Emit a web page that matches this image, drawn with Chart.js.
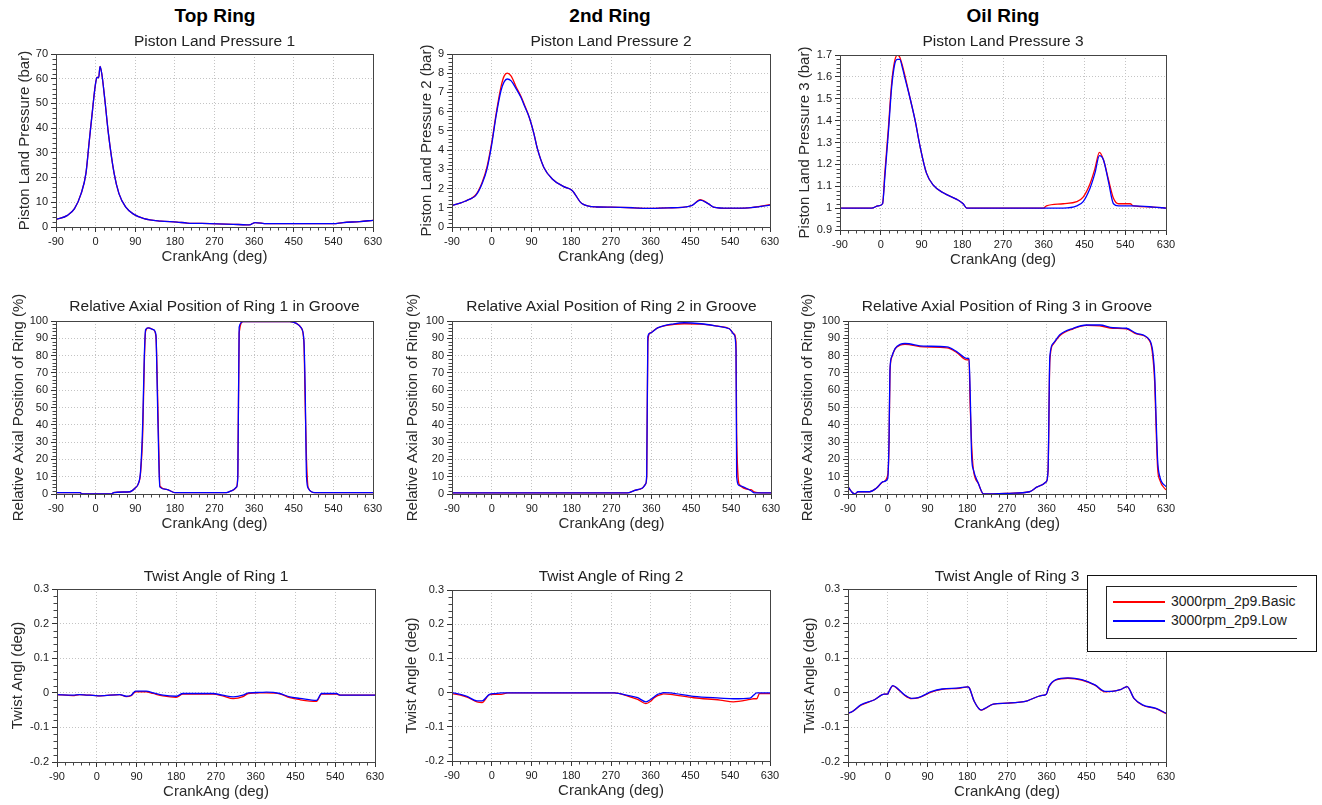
<!DOCTYPE html>
<html lang="en">
<head>
<meta charset="UTF-8" />
<title>Ring Dynamics</title>
<script src="https://cdn.jsdelivr.net/npm/chart.js"></script>
<style>
  body { margin: 0; width: 1322px; height: 805px; background: #fff; position: relative; overflow: hidden;
         font-family: "Liberation Sans", Arial, sans-serif; }
  canvas { position: absolute; }
  .head { position: absolute; font-weight: bold; font-size: 19px; color: #000; transform: translate(-50%, -50%); white-space: nowrap; }
  .sub { position: absolute; font-size: 15.5px; color: #222; transform: translate(-50%, -50%); white-space: nowrap; }
  #legend { position: absolute; left: 1087px; top: 575px; width: 228px; height: 75px; border: 1.5px solid #111; background: #fff; }
  #legend .inner { position: absolute; left: 18px; top: 10px; width: 190px; height: 51px; border: 1.5px solid #222; border-right: none; }
  #legend .row { position: absolute; left: 6px; font-size: 14px; color: #222; white-space: nowrap; }
  #legend .swatch { display: inline-block; width: 52px; height: 0; border-top: 2px solid; vertical-align: middle; margin-right: 6px; }
</style>
</head>
<body>
<div class="head" style="left:215px; top:16px">Top Ring</div>
<div class="head" style="left:610px; top:16px">2nd Ring</div>
<div class="head" style="left:1003px; top:16px">Oil Ring</div>

<div id="legend">
  <div class="inner">
    <div class="row" style="top:6px"><span class="swatch" style="border-color:#ff0000"></span>3000rpm_2p9.Basic</div>
    <div class="row" style="top:25px"><span class="swatch" style="border-color:#0000ff"></span>3000rpm_2p9.Low</div>
  </div>
</div>

<script>
const seriesNames = ["3000rpm_2p9.Basic", "3000rpm_2p9.Low"];
const xTicks = { min: -90, max: 630, step: 90, minor: 18 };

// Piston land pressure 1 (bar)
const lp1X = [-90, -64, -48, -33, -22, -15, -7, -1, 3, 7, 10, 14, 21, 29, 42, 53, 68, 87, 110, 148, 185, 208, 260, 313, 343, 352, 362, 389, 540, 562, 600, 630];
const lp1Basic = [3, 4.7, 7.4, 13.5, 21.7, 33.8, 47.4, 57, 60.5, 60.5, 65, 62, 51.4, 37.9, 21.7, 13.5, 8.1, 5.1, 3.4, 2.4, 2.0, 1.6, 1.4, 1.1, 0.9, 1.0, 1.8, 1.35, 1.35, 1.8, 2.2, 2.7];
const lp1Low = [3, 4.7, 7.4, 13.5, 21.7, 33.8, 47.4, 57, 60.5, 60.5, 65, 62, 51.4, 37.9, 21.7, 13.5, 8.1, 5.1, 3.4, 2.4, 2.0, 1.6, 1.4, 1.1, 0.9, 1.0, 1.8, 1.35, 1.35, 1.8, 2.2, 2.7];

// Piston land pressure 2 (bar)
const lp2X = [-90, -70, -56, -45, -37, -30, -22, -11, 0, 10, 21, 28, 35, 44, 55, 66, 75, 85, 95, 103, 118, 137, 163, 182, 204, 238, 270, 321, 351, 400, 431, 454, 472, 491, 502, 536, 581, 630];
const lp2Basic = [1.13, 1.25, 1.39, 1.5, 1.65, 1.9, 2.3, 3.1, 4.4, 5.9, 7.3, 7.85, 8.0, 7.85, 7.3, 6.8, 6.3, 5.7, 4.9, 4.1, 3.1, 2.5, 2.1, 1.9, 1.22, 1.04, 1.03, 1.0, 0.97, 1.0, 1.02, 1.13, 1.42, 1.2, 1.04, 0.97, 1.0, 1.16];
const lp2Low = [1.13, 1.25, 1.39, 1.5, 1.62, 1.85, 2.25, 3.0, 4.3, 5.8, 7.1, 7.55, 7.7, 7.6, 7.2, 6.75, 6.25, 5.7, 4.9, 4.1, 3.1, 2.5, 2.1, 1.9, 1.22, 1.04, 1.03, 1.0, 0.97, 1.0, 1.02, 1.13, 1.4, 1.2, 1.04, 0.98, 1.0, 1.14];

// Piston land pressure 3 (bar)
const lp3X = [-90, -20, -6, 4, 9, 17, 24, 31, 37, 42, 48, 54, 65, 76, 87, 101, 116, 138, 168, 182, 190, 359, 366, 403, 433, 447, 462, 473, 483, 492, 503, 514, 525, 551, 558, 602, 630];
const lp3Basic = [1.0, 1.0, 1.01, 1.02, 1.16, 1.37, 1.57, 1.675, 1.70, 1.69, 1.65, 1.60, 1.50, 1.40, 1.28, 1.16, 1.105, 1.07, 1.04, 1.02, 1.0, 1.0, 1.01, 1.02, 1.03, 1.05, 1.11, 1.18, 1.255, 1.22, 1.13, 1.045, 1.02, 1.02, 1.01, 1.005, 1.0];
const lp3Low = [1.0, 1.0, 1.01, 1.02, 1.14, 1.35, 1.55, 1.66, 1.68, 1.68, 1.64, 1.59, 1.50, 1.40, 1.28, 1.16, 1.105, 1.07, 1.04, 1.02, 1.0, 1.0, 1.0, 1.0, 1.01, 1.03, 1.09, 1.16, 1.24, 1.22, 1.12, 1.02, 1.01, 1.01, 1.01, 1.005, 1.0];

// Relative axial position of ring 1 (%)
const ap1X = [-90, -35, -31, 38, 40, 78, 89, 97, 102, 107, 110.5, 113.5, 119.5, 131, 137, 140, 144, 146, 161, 180, 297, 312, 320, 323, 326, 335, 441, 456, 467, 473, 476, 479, 483, 498, 630];
const ap1Basic = [0.8, 0.8, 0, 0, 0.8, 1.3, 3.3, 6, 12, 35, 75, 94, 96, 95, 91, 66, 20, 4.5, 2.7, 0.8, 0.8, 2.3, 4, 12, 93, 99.6, 99.6, 98.6, 96, 88, 52, 20, 3.5, 0.8, 0.8];
const ap1Low = [0.8, 0.8, 0, 0, 0.8, 1.3, 3.3, 6, 13, 41, 79, 95, 96, 95, 92, 60, 14, 4, 2.7, 0.8, 0.8, 2.3, 4, 10, 96.5, 99.6, 99.6, 98.6, 96, 89, 60, 10, 3.3, 0.8, 0.8];

// Relative axial position of ring 2 (%)
const ap2X = [-90, 306, 321, 340, 347, 349.5, 352, 357, 374, 411, 434, 472, 509.5, 536, 547, 551, 552.5, 558.5, 585, 592.5, 600, 630];
const ap2Basic = [0.6, 0.6, 2, 3.5, 5.8, 10, 88, 93, 96, 98, 98.4, 98.2, 97, 95.5, 92.5, 88, 35, 5.5, 2.5, 1.2, 0.8, 0.6];
const ap2Low = [0.6, 0.6, 2, 3.5, 5.8, 11.6, 91, 93, 96, 98.4, 99, 98.4, 97, 95.5, 92, 83.5, 9.7, 4.9, 1.9, 0.6, 0.6, 0.6];

// Relative axial position of ring 3 (%)
const ap3X = [-90, -82, -75, -67, -41, -26, -10, 0, 3, 5, 9, 17, 28, 39, 81, 134, 156, 179, 184, 186.5, 190, 194, 205, 217, 276, 321, 340, 359, 363, 367, 374.5, 389.5, 420, 450, 480, 510, 540, 563, 593, 600, 604.5, 608, 611, 616, 630];
const ap3Basic = [4.2, 1.35, 0, 1.3, 1.3, 3.3, 7.1, 11, 30, 70, 79, 84, 86, 86.5, 85, 84.5, 81.8, 77.5, 77.8, 52, 28, 13.9, 6.2, 0, 0.4, 1.3, 4.2, 7.1, 13.9, 77, 86.5, 91.5, 95.5, 97.5, 97.2, 95.8, 95.5, 92.5, 88.5, 80, 64, 35, 15, 8, 2.3];
const ap3Low = [4.2, 1.35, 0, 1.3, 1.3, 3.3, 7.1, 9, 33, 71.7, 79.4, 84.2, 86.5, 87, 85.5, 85, 82.3, 78.4, 78.4, 60, 21.6, 13.9, 6.2, 0, 0.4, 1.3, 4.2, 7.1, 13.9, 79.4, 87, 92, 95.8, 97.7, 97.7, 96.1, 95.8, 92.9, 89, 82.3, 67.8, 40.8, 19.7, 10, 4.2];

// Twist angle of ring 1 (deg)
const tw1X = [-90, -54, -39, 7.5, 52, 67, 78, 88, 112, 127.5, 150, 180, 195, 263, 285, 309, 331, 343, 369, 384, 414.5, 437, 460, 497.5, 509, 543, 550.5, 630];
const tw1Basic = [-0.005, -0.008, -0.005, -0.009, -0.005, -0.011, -0.008, 0.003, 0.003, -0.002, -0.009, -0.013, -0.004, -0.004, -0.009, -0.017, -0.011, -0.002, 0, 0, -0.003, -0.014, -0.02, -0.025, -0.004, -0.004, -0.007, -0.007];
const tw1Low = [-0.005, -0.007, -0.005, -0.009, -0.005, -0.01, -0.007, 0.005, 0.005, 0, -0.007, -0.01, -0.002, -0.002, -0.007, -0.012, -0.007, 0, 0.001, 0.002, -0.002, -0.012, -0.016, -0.022, -0.002, -0.002, -0.007, -0.007];

// Twist angle of ring 2 (deg)
const tw2X = [-90, -71, -56, -33.5, -22, -5, 6, 21, 36, 277.5, 308, 330.5, 349, 360, 368, 375.5, 383, 389, 404, 457, 517, 547, 585, 592.5, 600, 606, 630];
const tw2Basic = [-0.003, -0.007, -0.013, -0.027, -0.029, -0.006, -0.005, -0.005, -0.001, -0.001, -0.01, -0.02, -0.032, -0.025, -0.015, -0.009, -0.006, -0.004, -0.005, -0.015, -0.022, -0.027, -0.02, -0.018, -0.018, -0.003, -0.003];
const tw2Low = [0, -0.005, -0.011, -0.024, -0.024, -0.005, -0.003, -0.001, -0.001, -0.001, -0.008, -0.015, -0.027, -0.02, -0.012, -0.005, -0.002, 0, -0.001, -0.011, -0.016, -0.018, -0.016, -0.008, -0.001, -0.001, -0.001];

// Twist angle of ring 3 (deg)
const tw3X = [-90, -80, -61, -30, -7.7, 0, 2, 11.5, 19, 38, 54, 69, 100, 123, 161.5, 180.8, 184.6, 196, 212, 220, 239, 270, 316, 347, 359, 365, 381, 408, 439, 469, 492, 507.5, 526.5, 542, 557.5, 577, 607.5, 630];
const tw3Basic = [-0.06, -0.054, -0.036, -0.02, -0.004, -0.004, 0.002, 0.02, 0.015, -0.007, -0.017, -0.015, 0.003, 0.01, 0.013, 0.017, 0.014, -0.025, -0.05, -0.046, -0.033, -0.03, -0.023, -0.008, -0.004, 0.017, 0.037, 0.042, 0.037, 0.022, 0.003, 0.004, 0.009, 0.018, -0.016, -0.036, -0.046, -0.06];
const tw3Low = [-0.059, -0.054, -0.035, -0.02, -0.004, -0.004, 0.002, 0.021, 0.016, -0.006, -0.016, -0.014, 0.004, 0.011, 0.014, 0.017, 0.014, -0.025, -0.05, -0.045, -0.033, -0.03, -0.023, -0.008, -0.004, 0.018, 0.038, 0.043, 0.038, 0.023, 0.004, 0.004, 0.009, 0.018, -0.016, -0.035, -0.045, -0.059];

const panels = [
  { sub: "Piston Land Pressure 1", yTitle: "Piston Land Pressure (bar)", x: lp1X, basic: lp1Basic, low: lp1Low, y: [0, 70, 10, 2], box: [56, 54, 373, 227], d: 31, subY: 41 },
  { sub: "Piston Land Pressure 2", yTitle: "Piston Land Pressure 2 (bar)", x: lp2X, basic: lp2Basic, low: lp2Low, y: [0, 9, 1, 0.2], box: [452, 54, 770, 227], d: 25, subY: 41 },
  { sub: "Piston Land Pressure 3", yTitle: "Piston Land Pressure 3 (bar)", x: lp3X, basic: lp3Basic, low: lp3Low, y: [0.9, 1.7, 0.1, 0.02], box: [840, 55, 1166, 230], d: 35, subY: 41 },
  { sub: "Relative Axial Position of Ring 1 in Groove", yTitle: "Relative Axial Position of Ring (%)", x: ap1X, basic: ap1Basic, low: ap1Low, y: [0, 100, 10, 2], box: [56, 321, 373, 494], d: 37, subY: 306 },
  { sub: "Relative Axial Position of Ring 2 in Groove", yTitle: "Relative Axial Position of Ring (%)", x: ap2X, basic: ap2Basic, low: ap2Low, y: [0, 100, 10, 2], box: [452, 321, 771, 494], d: 39, subY: 306 },
  { sub: "Relative Axial Position of Ring 3 in Groove", yTitle: "Relative Axial Position of Ring (%)", x: ap3X, basic: ap3Basic, low: ap3Low, y: [0, 100, 10, 2], box: [848, 321, 1166, 494], d: 40, subY: 306 },
  { sub: "Twist Angle of Ring 1", yTitle: "Twist Angl (deg)", x: tw1X, basic: tw1Basic, low: tw1Low, y: [-0.2, 0.3, 0.1, 0.02], box: [57, 589, 375, 762], d: 39, subY: 576 },
  { sub: "Twist Angle of Ring 2", yTitle: "Twist Angle (deg)", x: tw2X, basic: tw2Basic, low: tw2Low, y: [-0.2, 0.3, 0.1, 0.02], box: [452, 590, 770, 761], d: 40, subY: 576 },
  { sub: "Twist Angle of Ring 3", yTitle: "Twist Angle (deg)", x: tw3X, basic: tw3Basic, low: tw3Low, y: [-0.2, 0.3, 0.1, 0.02], box: [848, 589, 1166, 762], d: 38, subY: 576 }
];

// frame round the plot area plus the small minor ticks
const frame = {
  id: "frame",
  afterDatasetsDraw(chart, args, opts) {
    const { ctx, chartArea: a, scales: { x, y } } = chart;
    ctx.save();
    ctx.strokeStyle = "#444";
    ctx.lineWidth = 1;
    ctx.strokeRect(Math.round(a.left) + 0.5, Math.round(a.top) + 0.5, Math.round(a.right - a.left), Math.round(a.bottom - a.top));
    ctx.beginPath();
    const isMajor = (v, step, min) => Math.abs((v - min) / step - Math.round((v - min) / step)) < 1e-6;
    for (let i = 0; x.min + i * opts.xMinor <= x.max + 1e-9; i++) {
      const v = x.min + i * opts.xMinor;
      if (isMajor(v, opts.xStep, x.min)) continue;
      const px = Math.round(x.getPixelForValue(v)) + 0.5;
      ctx.moveTo(px, a.bottom);
      ctx.lineTo(px, a.bottom + 3.5);
    }
    for (let i = 0; y.min + i * opts.yMinor <= y.max + 1e-9; i++) {
      const v = y.min + i * opts.yMinor;
      if (isMajor(v, opts.yStep, y.min)) continue;
      const py = Math.round(y.getPixelForValue(v)) + 0.5;
      ctx.moveTo(a.left - 3.5, py);
      ctx.lineTo(a.left, py);
    }
    ctx.stroke();
    ctx.restore();
  }
};

const PT = 40, PR = 16, XH = 39;
const tickFont = { family: "Liberation Sans", size: 11 };
const titleFont = { family: "Liberation Sans", size: 15 };

for (const p of panels) {
  const [l, t, r, b] = p.box;
  const yw = p.d + 9;
  const canvas = document.createElement("canvas");
  canvas.width = r - l + yw + PR;
  canvas.height = b - t + PT + XH;
  canvas.style.left = (l - yw) + "px";
  canvas.style.top = (t - PT) + "px";
  document.body.insertBefore(canvas, document.getElementById("legend"));

  const sub = document.createElement("div");
  sub.className = "sub";
  sub.textContent = p.sub;
  sub.style.left = ((l + r) / 2) + "px";
  sub.style.top = p.subY + "px";
  document.body.appendChild(sub);

  const [yMin, yMax, yStep, yMinor] = p.y;
  const line = { borderWidth: 1.3, pointRadius: 0, cubicInterpolationMode: "monotone" };
  new Chart(canvas, {
    type: "line",
    data: {
      datasets: [
        { ...line, label: seriesNames[0], data: p.x.map((v, i) => ({ x: v, y: p.basic[i] })), borderColor: "#ff0000", order: 1 },
        { ...line, label: seriesNames[1], data: p.x.map((v, i) => ({ x: v, y: p.low[i] })), borderColor: "#0000ff", order: 0 }
      ]
    },
    options: {
      responsive: false,
      animation: false,
      layout: { padding: { top: PT, right: PR, left: 0, bottom: 0 } },
      plugins: {
        legend: { display: false },
        tooltip: { enabled: false },
        frame: { xMinor: xTicks.minor, xStep: xTicks.step, yMinor: yMinor, yStep: yStep }
      },
      scales: {
        x: {
          type: "linear", min: xTicks.min, max: xTicks.max,
          afterFit: (s) => { s.height = XH; },
          ticks: { stepSize: xTicks.step, font: tickFont, color: "#1a1a1a", padding: 3, maxRotation: 0, autoSkip: false },
          grid: { color: "#c4c4c4", tickColor: "#333", tickLength: 5 },
          border: { display: false, dash: [1, 2] },
          title: { display: true, text: "CrankAng (deg)", font: titleFont, color: "#2a2a2a", padding: 0 }
        },
        y: {
          min: yMin, max: yMax,
          afterFit: (s) => { s.width = yw; },
          ticks: {
            stepSize: yStep, font: tickFont, color: "#1a1a1a", padding: 3, autoSkip: false,
            callback: (v) => String(Number(v.toFixed(3)))
          },
          grid: { color: "#c4c4c4", tickColor: "#333", tickLength: 5 },
          border: { display: false, dash: [1, 2] },
          title: { display: true, text: p.yTitle, font: titleFont, color: "#2a2a2a", padding: 0 }
        }
      }
    },
    plugins: [frame]
  });
}
</script>
</body>
</html>
